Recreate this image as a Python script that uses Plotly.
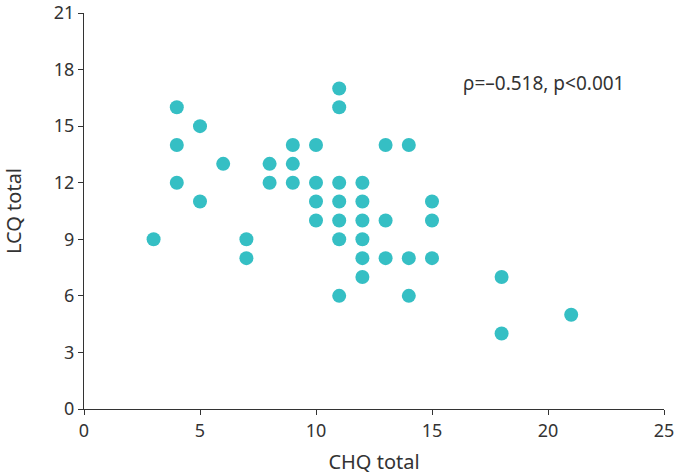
import plotly.graph_objects as go

chq = [3, 4, 4, 4, 5, 5, 6, 7, 7, 8, 8, 9, 9, 9, 10, 10, 10, 10,
       11, 11, 11, 11, 11, 11, 11, 12, 12, 12, 12, 12, 12,
       13, 13, 13, 14, 14, 14, 15, 15, 15, 18, 18, 21]
lcq = [9, 16, 14, 12, 15, 11, 13, 9, 8, 13, 12, 14, 13, 12, 14, 12, 11, 10,
       17, 16, 12, 11, 10, 9, 6, 12, 11, 10, 9, 8, 7,
       14, 10, 8, 14, 8, 6, 11, 10, 8, 7, 4, 5]

x_ticks = [0, 5, 10, 15, 20, 25]
y_ticks = [0, 3, 6, 9, 12, 15, 18, 21]
annotation_text = "ρ=–0.518, p<0.001"

FONT = "Noto Sans"
AX = "#333333"

fig = go.Figure(go.Scatter(
    x=chq, y=lcq, mode="markers",
    marker=dict(size=14, color="#35BFC4", line=dict(width=0)),
    hoverinfo="x+y", cliponaxis=False))

axis_common = dict(showgrid=False, zeroline=False, showline=True, linecolor=AX,
                   linewidth=1, ticks="outside", ticklen=5, tickcolor=AX,
                   automargin=False, ticklabeloverflow="allow",
                   tickfont=dict(family=FONT, size=18, color=AX))

fig.update_xaxes(range=[0, 25], tickvals=x_ticks, title=dict(text="CHQ total",
                 font=dict(family=FONT, size=20, color=AX), standoff=17), **axis_common)
fig.update_yaxes(range=[0, 21], tickvals=y_ticks, title=dict(text="LCQ total",
                 font=dict(family=FONT, size=20, color=AX), standoff=28), **axis_common)

fig.add_annotation(x=16.25, y=17.3, xref="x", yref="y", text=annotation_text,
                   showarrow=False, xanchor="left", yanchor="middle",
                   font=dict(family=FONT, size=19, color=AX))

fig.update_layout(width=686, height=475, plot_bgcolor="white", paper_bgcolor="white",
                  margin=dict(l=84, r=22, t=13, b=66, autoexpand=False), showlegend=False)

fig.write_html("out.html", config={"displayModeBar": False},
               post_script="document.body.style.margin='0';document.body.style.overflow='hidden';")
